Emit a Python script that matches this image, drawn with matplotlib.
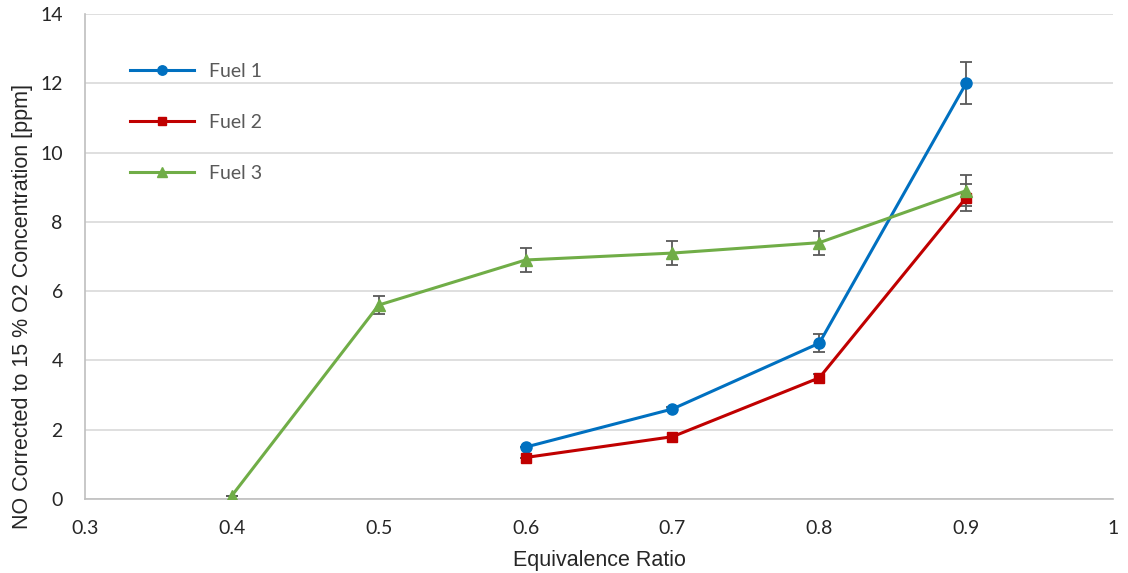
import matplotlib.pyplot as plt

# Equivalence ratio sweep and NO (corrected to 15 % O2) readings
phi_f1 = [0.6, 0.7, 0.8, 0.9]
no_f1 = [1.5, 2.6, 4.5, 12.0]
err_f1 = [0.0, 0.05, 0.25, 0.6]

phi_f2 = [0.6, 0.7, 0.8, 0.9]
no_f2 = [1.2, 1.8, 3.5, 8.7]
err_f2 = [0.0, 0.0, 0.1, 0.4]

phi_f3 = [0.4, 0.5, 0.6, 0.7, 0.8, 0.9]
no_f3 = [0.1, 5.6, 6.9, 7.1, 7.4, 8.9]
err_f3 = [0.0, 0.27, 0.35, 0.35, 0.35, 0.45]

SERIES = [
    ("Fuel 1", phi_f1, no_f1, err_f1, "#0070C0", "o", 8),
    ("Fuel 2", phi_f2, no_f2, err_f2, "#C00000", "s", 7.5),
    ("Fuel 3", phi_f3, no_f3, err_f3, "#70AD47", "^", 8),
]

plt.rcParams["font.family"] = ["Lato", "DejaVu Sans"]
AXIS_FONT = ["Liberation Sans", "DejaVu Sans"]

fig = plt.figure(figsize=(11.28, 5.73), dpi=100)
ax = fig.add_axes([0.0754, 0.129, 0.9113, 0.8466])

for label, x, y, e, color, marker, ms in SERIES:
    ax.errorbar(x, y, yerr=e, fmt="none", ecolor="#595959", elinewidth=1.3,
                capsize=4, capthick=1.3, zorder=2)
    ax.plot(x, y, color=color, marker=marker, markersize=ms, linewidth=2.2,
            label=label, zorder=3)

ax.set_xlim(0.3, 1.0)
ax.set_ylim(0, 14)
ax.set_xticks([0.3, 0.4, 0.5, 0.6, 0.7, 0.8, 0.9, 1.0])
ax.set_xticklabels(["0.3", "0.4", "0.5", "0.6", "0.7", "0.8", "0.9", "1"])
ax.set_yticks(range(0, 15, 2))
ax.tick_params(axis="x", labelsize=14, colors="#262626", length=0, pad=15)
ax.tick_params(axis="y", labelsize=14, colors="#262626", length=0, pad=16)

ax.grid(axis="y", color="#D9D9D9", linewidth=1.2)
ax.set_axisbelow(True)
for side in ["top", "right"]:
    ax.spines[side].set_visible(False)
ax.spines["left"].set_color("#BFBFBF")
ax.spines["bottom"].set_color("#BFBFBF")
ax.spines["left"].set_linewidth(1.2)
ax.spines["bottom"].set_linewidth(1.2)

ax.set_xlabel("Equivalence Ratio", fontsize=15.5, color="#262626", family=AXIS_FONT)
ax.set_ylabel("NO Corrected to 15 % O2 Concentration [ppm]", fontsize=15.5,
              color="#262626", family=AXIS_FONT)
ax.xaxis.set_label_coords(0.5, -0.105)
ax.yaxis.set_label_coords(-0.051, 0.398)

ax.legend(loc="upper left", bbox_to_anchor=(0.027, 0.935), frameon=False,
          fontsize=14, handlelength=3.3, labelspacing=1.75, handletextpad=0.75,
          labelcolor="#595959", markerscale=0.85)

fig.savefig("out.png", dpi=100)
